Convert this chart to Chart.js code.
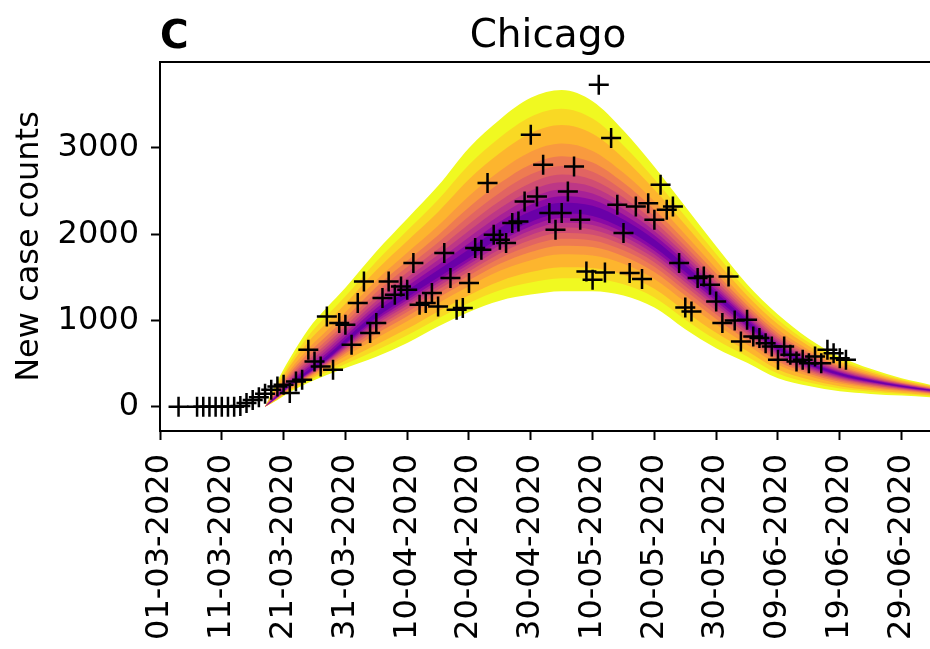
<!DOCTYPE html>
<html>
<head>
<meta charset="utf-8">
<script src="https://cdn.jsdelivr.net/npm/chart.js@4/dist/chart.umd.min.js"></script>
<style>
  body { margin: 0; background: #fff; }
  canvas { display: block; }
</style>
</head>
<body>
<canvas id="chicago-chart" width="930" height="649"></canvas>
<script>
// days counted from 01-03-2020
const tickDays = [0, 10, 20, 30, 40, 50, 60, 70, 80, 90, 100, 110, 120];
const tickLabels = ['01-03-2020', '11-03-2020', '21-03-2020', '31-03-2020', '10-04-2020', '20-04-2020',
    '30-04-2020', '10-05-2020', '20-05-2020', '30-05-2020', '09-06-2020', '19-06-2020', '29-06-2020'];
const yTicks = [0, 1000, 2000, 3000];

// reported daily cases
const caseDays = [3, 6, 7, 8, 9, 10, 11, 12, 13, 14, 15, 16, 17, 18, 19, 20, 21, 22, 23, 24, 25, 26, 27, 28, 29,
    30, 31, 32, 33, 34, 35, 36, 37, 38, 39, 40, 41, 42, 43, 44, 45, 46, 47, 48, 49, 50, 51, 52, 53, 54, 55, 56,
    57, 58, 59, 60, 61, 62, 63, 64, 65, 66, 67, 68, 69, 70, 71, 72, 73, 74, 75, 76, 77, 78, 79, 80, 81, 82, 83,
    84, 85, 86, 87, 88, 89, 90, 91, 92, 93, 94, 95, 96, 97, 98, 99, 100, 101, 102, 103, 104, 105, 106, 107, 108,
    109, 110, 111];
const caseCounts = [0, 0, 0, 0, 0, 0, 0, 0, 10, 43, 80, 110, 151, 197, 236, 255, 159, 293, 313, 661, 525, 467,
    1047, 429, 970, 950, 719, 1202, 1452, 854, 970, 1260, 1452, 1298, 1394, 1356, 1665, 1182, 1202, 1318, 1162,
    1781, 1492, 1124, 1144, 1434, 1839, 1820, 2593, 1993, 1935, 1897, 2129, 2148, 2379, 3152, 2437, 2805, 2245,
    2051, 2245, 2495, 2785, 2167, 1568, 1472, 3732, 1557, 3114, 2341, 2013, 1550, 2321, 1480, 2360, 2167, 2573,
    2283, 2321, 1665, 1150, 1105, 1492, 1510, 1414, 1220, 970, 1510, 1000, 757, 1008, 815, 796, 738, 699, 545,
    699, 603, 525, 545, 506, 583, 506, 661, 622, 564, 545];

// model fan: median and outer quantile envelope
const fanDays = [17, 19, 21, 24, 27, 30, 35, 40, 45, 50, 55, 60, 65, 70, 75, 80, 85, 90, 95, 100, 105, 110, 115, 120, 125];
const fanMedian = [0, 120, 250, 400, 560, 750, 1060, 1300, 1530, 1760, 2000, 2190, 2290, 2260, 2110, 1890, 1600,
    1290, 980, 680, 500, 380, 300, 240, 190];
const fanUpper = [0, 300, 560, 900, 1150, 1380, 1800, 2180, 2560, 3000, 3330, 3580, 3670, 3540, 3200, 2780, 2320,
    1860, 1420, 1070, 790, 580, 440, 330, 250];
const fanLower = [0, 80, 170, 280, 370, 450, 580, 740, 930, 1100, 1230, 1300, 1340, 1340, 1290, 1150, 900,
    680, 510, 330, 240, 180, 150, 130, 110];

// quantile offsets (outermost = 1) and plasma colours, outer band first
const bandOffsets = [1, 0.843, 0.707, 0.551, 0.445, 0.362, 0.29, 0.225, 0.166, 0.109, 0.054];
const bandColors = ['#f0f921', '#f9d924', '#fdb52e', '#f99a3e', '#ee7b51', '#e16462', '#d04d73',
    '#bd3786', '#a72197', '#8a09a5', '#6a00a8'];

const FONT = 'DejaVu Sans';

const datasets = [{
    label: 'cases',
    data: caseDays.map((d, i) => ({ x: d, y: caseCounts[i] })),
    showLine: false,
    pointStyle: 'cross',
    pointRadius: 10,
    pointBorderWidth: 2.5,
    pointBorderColor: '#000',
    borderColor: '#000',
    order: 0
}];

bandOffsets.forEach((k, b) => {
    const upper = fanDays.map((d, i) => ({ x: d, y: fanMedian[i] + (fanUpper[i] - fanMedian[i]) * k }));
    const lower = fanDays.map((d, i) => ({ x: d, y: fanMedian[i] - (fanMedian[i] - fanLower[i]) * k }));
    const common = {
        pointRadius: 0,
        borderWidth: 0,
        borderColor: 'rgba(0,0,0,0)',
        cubicInterpolationMode: 'monotone',
        order: 100 - b
    };
    datasets.push(Object.assign({ data: upper, fill: '+1', backgroundColor: bandColors[b] }, common));
    datasets.push(Object.assign({ data: lower, fill: false }, common));
});

// panel letter, title and top frame line
const decorations = {
    id: 'decorations',
    afterDraw(chart) {
        const { ctx, chartArea } = chart;
        ctx.save();
        ctx.strokeStyle = '#000';
        ctx.lineWidth = 2;
        ctx.beginPath();
        ctx.moveTo(chartArea.left, chartArea.top);
        ctx.lineTo(chartArea.right, chartArea.top);
        ctx.stroke();
        ctx.fillStyle = '#000';
        ctx.textBaseline = 'alphabetic';
        ctx.font = '39px "' + FONT + '"';
        ctx.textAlign = 'center';
        ctx.fillText('Chicago', chartArea.left + 388, chartArea.top - 15);
        ctx.font = 'bold 39px "' + FONT + '"';
        ctx.textAlign = 'left';
        ctx.fillText('C', chartArea.left, chartArea.top - 14);
        ctx.restore();
    }
};

new Chart(document.getElementById('chicago-chart').getContext('2d'), {
    type: 'line',
    data: { datasets },
    plugins: [decorations],
    options: {
        responsive: false,
        animation: false,
        layout: { autoPadding: false, padding: { top: 62, right: 0, left: 0, bottom: 0 } },
        plugins: { legend: { display: false }, tooltip: { enabled: false } },
        scales: {
            x: {
                type: 'linear',
                min: 0,
                max: 124.6,
                afterBuildTicks: s => { s.ticks = tickDays.map(v => ({ value: v })); },
                afterFit: s => { s.height = 218; s.paddingLeft = 0; s.paddingRight = 0; },
                ticks: {
                    autoSkip: false,
                    maxRotation: 90,
                    minRotation: 90,
                    padding: 14,
                    color: '#000',
                    font: { family: FONT, size: 32 },
                    callback: v => tickLabels[tickDays.indexOf(v)]
                },
                grid: { drawOnChartArea: false, tickLength: 9, tickWidth: 2, tickColor: '#000' },
                border: { color: '#000', width: 2 }
            },
            y: {
                min: -280,
                max: 3995,
                afterBuildTicks: s => { s.ticks = yTicks.map(v => ({ value: v })); },
                afterFit: s => { s.width = 160; s.paddingTop = 0; s.paddingBottom = 0; },
                ticks: {
                    padding: 12,
                    color: '#000',
                    font: { family: FONT, size: 32 },
                    callback: v => String(v)
                },
                grid: { drawOnChartArea: false, tickLength: 9, tickWidth: 2, tickColor: '#000' },
                border: { color: '#000', width: 2 },
                title: {
                    display: true,
                    text: 'New case counts',
                    color: '#000',
                    font: { family: FONT, size: 32 },
                    padding: { top: 10, bottom: 0 }
                }
            }
        }
    }
});
</script>
</body>
</html>
